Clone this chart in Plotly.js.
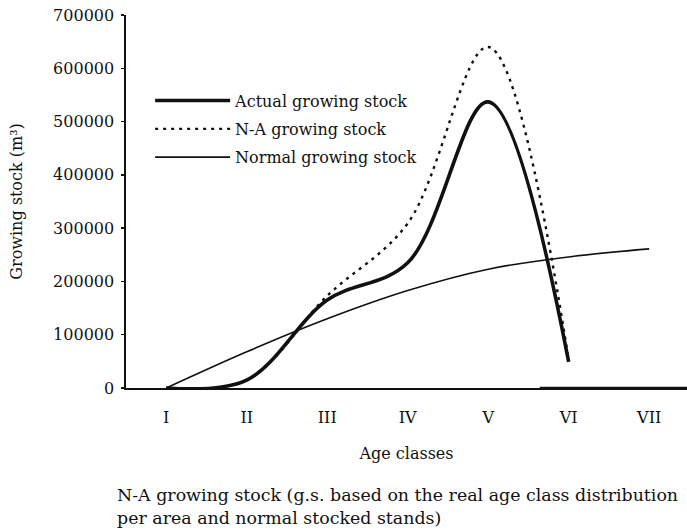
<!DOCTYPE html>
<html>
<head>
<meta charset="utf-8">
<script src="https://cdn.plot.ly/plotly-3.0.1.min.js"></script>
<style>html,body{margin:0;padding:0;background:#fff;}#chart{width:687px;height:532px;}</style>
</head>
<body>
<div id="chart"></div>
<script>
// Age classes (category centres at 1..7)
const ageClasses = ["I", "II", "III", "IV", "V", "VI", "VII"];
const classPos = [1, 2, 3, 4, 5, 6, 7];
const classBounds = [1.5, 2.5, 3.5, 4.5, 5.5, 6.5];

// Series values (m3)
const actualStock = [0, 15000, 165000, 235000, 537000, 49000];
const naStock = [0, 15000, 173000, 309000, 640000, 53000];
const normalStock = [0, 68000, 130000, 183000, 223000, 246000, 261000];
// short flat segment drawn on the zero line after class VI
const tailX = [5.64, 7.5];
const tailY = [0, 0];

const yTicks = [0, 100000, 200000, 300000, 400000, 500000, 600000, 700000];

const FONT = "DejaVu Serif";
const ink = "#111";

const traces = [
  {x: classPos.slice(0, actualStock.length), y: actualStock, name: "Actual growing stock",
   mode: "lines", line: {color: ink, width: 3.6, shape: "spline", smoothing: 1}, legendgroup: "a"},
  {x: classPos.slice(0, naStock.length), y: naStock, name: "N-A growing stock",
   mode: "lines", line: {color: ink, width: 2.4, dash: "3px,5px", shape: "spline", smoothing: 1}, legendgroup: "b"},
  {x: classPos, y: normalStock, name: "Normal growing stock",
   mode: "lines", line: {color: ink, width: 1.6, shape: "spline", smoothing: 1}, legendgroup: "c"},
  {x: tailX, y: tailY, mode: "lines", showlegend: false, hoverinfo: "skip",
   line: {color: ink, width: 2.4}}
];

const xRange = [0.5, 7.47];
const yRange = [0, 700000];

const layout = {
  width: 687, height: 532,
  margin: {l: 126, r: 0, t: 15, b: 144},
  paper_bgcolor: "#fff", plot_bgcolor: "#fff",
  font: {family: FONT, size: 16, color: ink},
  showlegend: true,
  legend: {x: 0.043, y: 0.816, xanchor: "left", yanchor: "top", bgcolor: "rgba(0,0,0,0)",
           font: {family: FONT, size: 16, color: ink}, itemwidth: 75,
           traceorder: "grouped", tracegroupgap: 4.5},
  xaxis: {range: xRange, tickvals: classPos, ticktext: ageClasses, ticks: "",
          showline: true, linecolor: ink, linewidth: 1.6, showgrid: false, zeroline: false,
          tickfont: {family: FONT, size: 16, color: ink}, ticklabelstandoff: 14,
          title: {text: "Age classes", font: {family: FONT, size: 16, color: ink}, standoff: 22}},
  xaxis2: {range: xRange, overlaying: "x", anchor: "y", side: "bottom", tickvals: classBounds,
           ticks: "outside", ticklen: 4, tickwidth: 1.4, tickcolor: ink, showticklabels: false,
           showline: false, showgrid: false, zeroline: false},
  xaxis3: {range: xRange, overlaying: "x", anchor: "y", side: "bottom", tickvals: classBounds,
           ticks: "inside", ticklen: 4, tickwidth: 1.4, tickcolor: ink, showticklabels: false,
           showline: false, showgrid: false, zeroline: false},
  yaxis: {range: yRange, tickvals: yTicks, tickformat: "d", ticks: "outside", ticklen: 3, tickwidth: 1.4,
          tickcolor: ink, showline: true, linecolor: ink, linewidth: 1.6, showgrid: false, zeroline: false,
          tickfont: {family: FONT, size: 16, color: ink}, ticklabelstandoff: 4,
          title: {text: "Growing stock (m³)", font: {family: FONT, size: 16, color: ink}, standoff: 26}},
  yaxis2: {range: yRange, overlaying: "y", anchor: "x", side: "left", tickvals: yTicks,
           ticks: "inside", ticklen: 3, tickwidth: 1.4, tickcolor: ink, showticklabels: false,
           showline: false, showgrid: false, zeroline: false},
  annotations: [{
    xref: "paper", yref: "paper", x: -0.0196, y: -0.255, xanchor: "left", yanchor: "top",
    align: "left", showarrow: false,
    text: "N-A growing stock (g.s. based on the real age class distribution<br>per area and normal stocked stands)",
    font: {family: FONT, size: 17.4, color: ink}
  }]
};

Plotly.newPlot("chart", traces, layout, {displayModeBar: false, staticPlot: true});
</script>
</body>
</html>
